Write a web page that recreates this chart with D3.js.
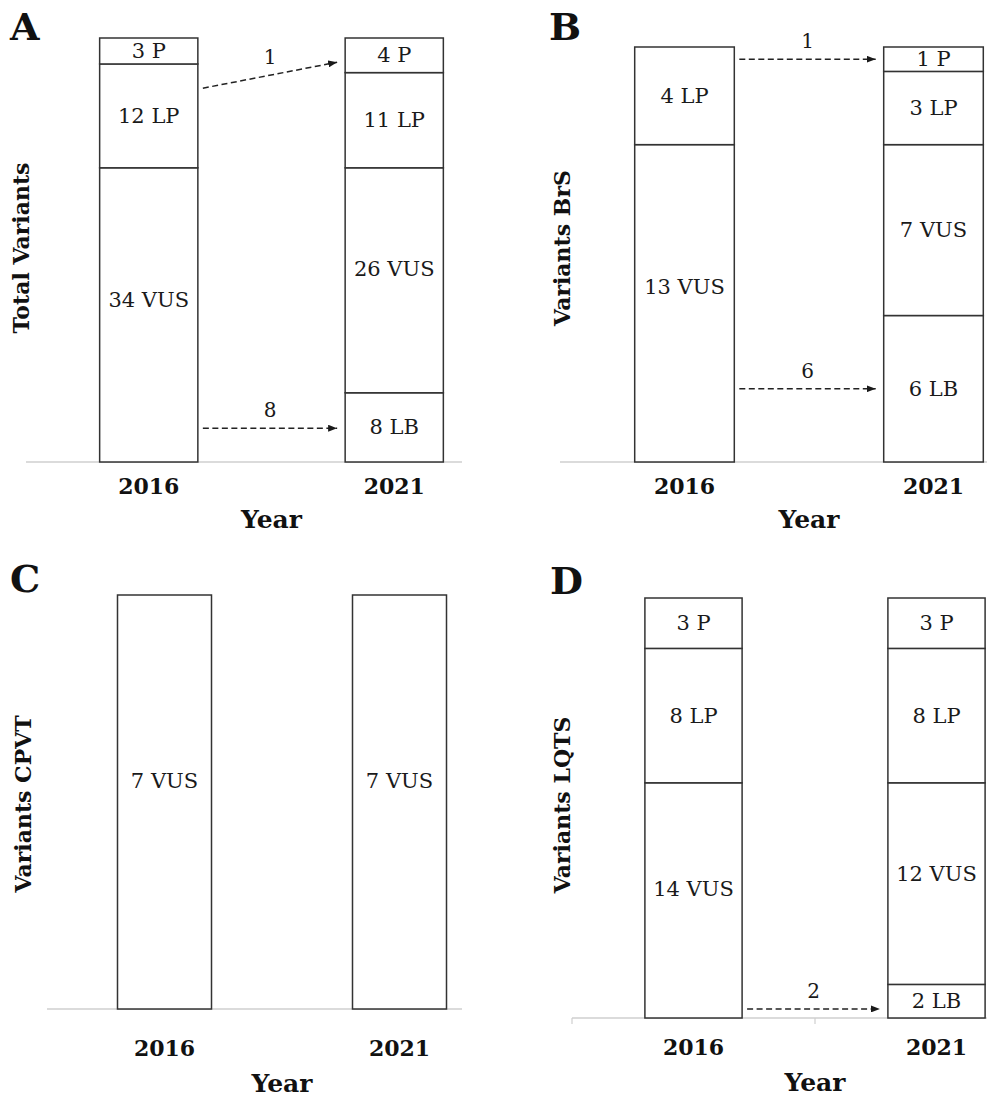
<!DOCTYPE html>
<html><head><meta charset="utf-8">
<script src="https://cdn.jsdelivr.net/npm/d3@7"></script>
<style>body{margin:0;background:#fff} svg{display:block}</style>
</head><body><svg id="chart" width="987" height="1097"></svg>
<script>
// ---------- data ----------
const years = ["2016", "2021"];
const classes = ["LB", "VUS", "LP", "P"]; // stacked bottom -> top
const panelLetters = ["A", "B", "C", "D"];
const yTitles = ["Total Variants", "Variants BrS", "Variants CPVT", "Variants LQTS"];
const xTitle = "Year";

// counts per class, in order [LB, VUS, LP, P]
const countsA2016 = [0, 34, 12, 3];
const countsA2021 = [8, 26, 11, 4];
const countsB2016 = [0, 13, 4, 0];
const countsB2021 = [6, 7, 3, 1];
const countsC2016 = [0, 7, 0, 0];
const countsC2021 = [0, 7, 0, 0];
const countsD2016 = [0, 14, 8, 3];
const countsD2021 = [2, 12, 8, 3];

// reclassifications 2016 -> 2021 (n variants, from class, to class)
const arrowsA = [{n: 1, from: "LP", to: "P"}, {n: 8, from: "VUS", to: "LB"}];
const arrowsB = [{n: 1, from: "LP", to: "P"}, {n: 6, from: "VUS", to: "LB"}];
const arrowsC = [];
const arrowsD = [{n: 2, from: "VUS", to: "LB"}];
// arrow levels on the count axis [start, end]
const arrowLevelsA = [[43.2, 46.2], [3.9, 3.9]];
const arrowLevelsB = [[16.5, 16.5], [3.0, 3.0]];
const arrowLevelsC = [];
const arrowLevelsD = [[0.54, 0.54]];

const panelData = [
  {c2016: countsA2016, c2021: countsA2021, arrows: arrowsA, levels: arrowLevelsA},
  {c2016: countsB2016, c2021: countsB2021, arrows: arrowsB, levels: arrowLevelsB},
  {c2016: countsC2016, c2021: countsC2021, arrows: arrowsC, levels: arrowLevelsC},
  {c2016: countsD2016, c2021: countsD2021, arrows: arrowsD, levels: arrowLevelsD}
];

// ---------- layout ----------
const layout = [
  {x0: 26,  step: 245.5, xEnd: 462, top: 38,  base: 462,  tickY: 486,  titleY: 519,  lx: 10,  ly: 40,  ytx: 21,  yty: 248, ticks: false},
  {x0: 560, step: 249,   xEnd: 987, top: 47,  base: 462,  tickY: 486,  titleY: 519,  lx: 549, ly: 40,  ytx: 562, yty: 248, ticks: false},
  {x0: 47,  step: 235,   xEnd: 462, top: 595, base: 1009, tickY: 1048, titleY: 1083, lx: 10,  ly: 592, ytx: 23,  yty: 804, ticks: false},
  {x0: 572, step: 243,   xEnd: 987, top: 598, base: 1018, tickY: 1047, titleY: 1082, lx: 550, ly: 594, ytx: 562, yty: 805, ticks: true}
];

const FONT = "Georgia, 'DejaVu Serif', serif";
const svg = d3.select("#chart");

svg.append("defs").append("marker")
  .attr("id", "arrowhead")
  .attr("viewBox", "0 0 9 7")
  .attr("refX", 9).attr("refY", 3.5)
  .attr("markerWidth", 9).attr("markerHeight", 7)
  .attr("markerUnits", "userSpaceOnUse")
  .attr("orient", "auto")
  .append("path").attr("d", "M0,0L9,3.5L0,7Z").attr("fill", "#1a1a1a");

panelData.forEach((pd, i) => {
  const L = layout[i];
  const g = svg.append("g");
  const x = d3.scaleBand().domain(years)
    .range([L.x0, L.x0 + 2 * L.step])
    .paddingInner(0.6).paddingOuter(0.3);
  const total = d3.max([d3.sum(pd.c2016), d3.sum(pd.c2021)]);
  const y = d3.scaleLinear().domain([0, total]).range([L.base, L.top]);

  // baseline (category axis)
  g.append("line")
    .attr("x1", L.x0).attr("x2", L.xEnd)
    .attr("y1", L.base).attr("y2", L.base)
    .attr("stroke", "#cfcfcf").attr("stroke-width", 1.5);
  if (L.ticks) {
    const tickXs = [L.x0, L.x0 + L.step];
    g.selectAll(".tk").data(tickXs).enter().append("line")
      .attr("x1", d => d).attr("x2", d => d)
      .attr("y1", L.base).attr("y2", L.base + 6)
      .attr("stroke", "#cfcfcf").attr("stroke-width", 1.2);
  }

  // stacked segments
  years.forEach(yr => {
    const counts = yr === "2016" ? pd.c2016 : pd.c2021;
    let cum = 0;
    const segs = [];
    counts.forEach((v, k) => {
      if (v > 0) segs.push({cls: classes[k], v, y0: cum, y1: cum + v});
      cum += v;
    });
    g.selectAll(null).data(segs).enter().append("rect")
      .attr("x", x(yr)).attr("width", x.bandwidth())
      .attr("y", d => y(d.y1)).attr("height", d => y(d.y0) - y(d.y1))
      .attr("fill", "#fff").attr("stroke", "#333").attr("stroke-width", 1.5);
    g.selectAll(null).data(segs).enter().append("text")
      .attr("x", x(yr) + x.bandwidth() / 2)
      .attr("y", d => {
        const h = y(d.y0) - y(d.y1);
        const mid = (y(d.y0) + y(d.y1)) / 2;
        return h > 200 ? mid - 0.05 * h : mid;
      })
      .attr("text-anchor", "middle").attr("dominant-baseline", "central")
      .attr("font-family", FONT).attr("font-size", 21).attr("fill", "#1a1a1a")
      .text(d => `${d.v} ${d.cls}`);
  });

  // reclassification arrows
  pd.arrows.forEach((a, k) => {
    const xs = x("2016") + x.bandwidth() + 5;
    const xe = x("2021") - 8;
    const ys = y(pd.levels[k][0]);
    const ye = y(pd.levels[k][1]);
    g.append("line")
      .attr("x1", xs).attr("y1", ys).attr("x2", xe).attr("y2", ye)
      .attr("stroke", "#222").attr("stroke-width", 1.5)
      .attr("stroke-dasharray", "6,3.5")
      .attr("marker-end", "url(#arrowhead)");
    g.append("text")
      .attr("x", (xs + xe) / 2).attr("y", (ys + ye) / 2 - 18)
      .attr("text-anchor", "middle").attr("dominant-baseline", "central")
      .attr("font-family", FONT).attr("font-size", 20).attr("fill", "#1a1a1a")
      .text(a.n);
  });

  // category tick labels
  g.selectAll(null).data(years).enter().append("text")
    .attr("x", d => x(d) + x.bandwidth() / 2).attr("y", L.tickY)
    .attr("text-anchor", "middle").attr("dominant-baseline", "central")
    .attr("font-family", FONT).attr("font-weight", "bold").attr("font-size", 22)
    .attr("fill", "#111").text(d => d);

  // axis titles
  g.append("text")
    .attr("x", L.x0 + L.step).attr("y", L.titleY)
    .attr("text-anchor", "middle").attr("dominant-baseline", "central")
    .attr("font-family", FONT).attr("font-weight", "bold").attr("font-size", 25)
    .attr("fill", "#111").text(xTitle);
  g.append("text")
    .attr("transform", `translate(${L.ytx},${L.yty}) rotate(-90)`)
    .attr("text-anchor", "middle").attr("dominant-baseline", "central")
    .attr("font-family", FONT).attr("font-weight", "bold").attr("font-size", 22)
    .attr("fill", "#111").text(yTitles[i]);

  // panel letter
  g.append("text")
    .attr("x", L.lx).attr("y", L.ly)
    .attr("font-family", FONT).attr("font-weight", "bold").attr("font-size", 38)
    .attr("fill", "#111").text(panelLetters[i]);
});
</script></body></html>
